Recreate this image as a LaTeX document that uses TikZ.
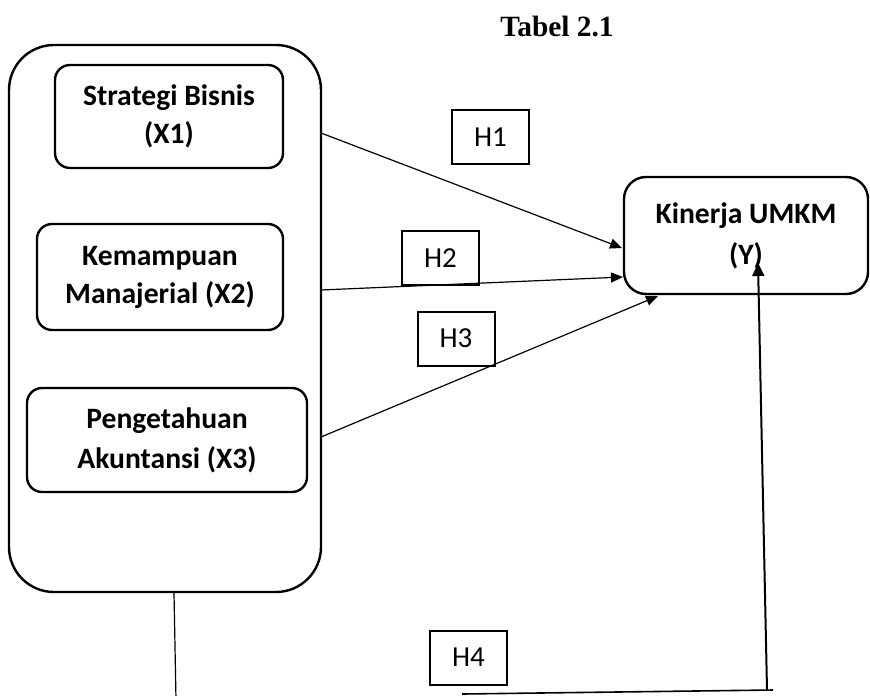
\documentclass[tikz,border=0pt]{standalone}
\usepackage{fontspec}
\setmainfont{Liberation Serif}
\newfontfamily\calibri{Carlito}
\usetikzlibrary{arrows.meta}
\begin{document}
\begin{tikzpicture}[x=0.5pt, y=-0.5pt,
        font=\calibri\bfseries\fontsize{14.8}{19}\selectfont,
        var/.style={draw, line width=1.2pt, rounded corners=7.5pt,
                    align=center, inner sep=0pt},
        hyp/.style={draw, line width=1pt, minimum width=38.5pt,
                    minimum height=27pt, inner sep=0pt,
                    font=\calibri\fontsize{14.5}{16}\selectfont},
        link/.style={-{Triangle[length=6pt,width=5pt]}, line width=0.6pt}]
      \useasboundingbox (0,0) rectangle (870,695);
      \node[font=\bfseries\fontsize{14.7}{17}\selectfont] (title) at (557,27) {Tabel 2.1};
      \node[var, rounded corners=22.5pt, minimum width=156pt, minimum height=273.5pt] (grp) at (165,318.5) {};
      \node[var, minimum width=114pt, minimum height=51.5pt] (x1) at (169,116.5) {Strategi Bisnis\\(X1)};
      \node[var, minimum width=123pt, minimum height=53pt]   (x2) at (160,277)   {Kemampuan\\Manajerial (X2)};
      \node[var, minimum width=140pt, minimum height=52pt]   (x3) at (167,440)   {Pengetahuan\\[1pt]Akuntansi (X3)};
      \node[var, rounded corners=11pt, minimum width=122pt, minimum height=58.5pt] (y) at (746,235.5) {Kinerja UMKM\\[1.5pt](Y)};
      \node[hyp] (h1) at (490.5,137) {H1};
      \node[hyp] (h2) at (440.5,258) {H2};
      \node[hyp] (h3) at (456,338.5) {H3};
      \node[hyp] (h4) at (468.5,657.5) {H4};
      \coordinate (s1) at (321,133);
      \coordinate (s2) at (321,290);
      \coordinate (s3) at (321,437);
      \coordinate (e1) at (622,248);
      \coordinate (e2) at (623,277);
      \coordinate (e3) at (658,296);
      \coordinate (e4) at (758,263);
      \coordinate (b0) at (176,700);
      \coordinate (b1) at (462,694);
      \coordinate (b2) at (773,690);
      \coordinate (b3) at (767,690);
      \draw[link] (s1) -- (e1);
      \draw[link] (s2) -- (e2);
      \draw[link] (s3) -- (e3);
      \draw[line width=0.6pt] (grp.south -| 174,0) -- (b0);
      \draw[line width=0.8pt] (b1) -- (b2);
      \draw[-{Triangle[length=6.5pt,width=6pt]}, line width=1pt] (b3) -- (e4);
    \end{tikzpicture}
\end{document}
